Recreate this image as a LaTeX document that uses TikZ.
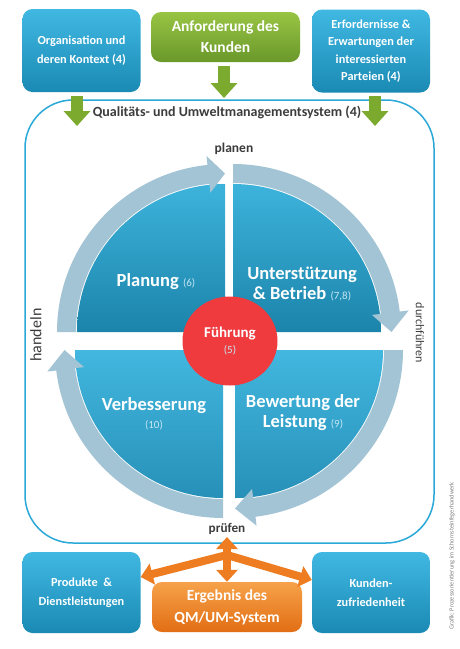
\documentclass[tikz,border=0pt]{standalone}
\usepackage{fontspec}
\setmainfont{Carlito}
\usetikzlibrary{arrows.meta,calc,shapes.geometric}
\definecolor{boxblueT}{HTML}{40B8E2}
\definecolor{boxblueB}{HTML}{1A8AB4}
\definecolor{boxgreenT}{HTML}{98C444}
\definecolor{boxgreenB}{HTML}{6A982A}
\definecolor{boxorangeT}{HTML}{F6A24A}
\definecolor{boxorangeB}{HTML}{E26E14}
\definecolor{secT}{HTML}{3DB3DC}
\definecolor{secB}{HTML}{1C84AA}
\definecolor{secBT}{HTML}{42B7DF}
\definecolor{secBB}{HTML}{2790B8}
\definecolor{ringc}{HTML}{A3C4D5}
\definecolor{framec}{HTML}{2AA8D8}
\definecolor{arrgreen}{HTML}{7BAA2F}
\definecolor{arrorange}{HTML}{EE7D22}
\definecolor{numc}{HTML}{C6E6F4}
\definecolor{leadred}{HTML}{EF3A3E}
\definecolor{labelc}{HTML}{3C3C3C}
\newcommand{\numtxt}[1]{{\mdseries\fontsize{11}{12}\selectfont\color{numc}#1}}
\begin{document}
\begin{tikzpicture}[x=1pt,y=1pt,
  box/.style={rounded corners=10pt, draw=none, text=white, align=center, inner sep=0pt},
  bluebox/.style={box, top color=boxblueT, bottom color=boxblueB, minimum width=118pt, minimum height=83pt, font=\bfseries\fontsize{12.3}{18.5}\selectfont},
  greenbox/.style={box, top color=boxgreenT, bottom color=boxgreenB, minimum width=149pt, minimum height=50pt, font=\bfseries\fontsize{15.5}{21}\selectfont},
  orangebox/.style={box, top color=boxorangeT, bottom color=boxorangeB, minimum width=150pt, minimum height=50pt, font=\bfseries\fontsize{15.5}{22}\selectfont},
  sectortext/.style={text=white, align=center, font=\bfseries\fontsize{18.5}{20}\selectfont, inner sep=0pt},
  topsector/.style={top color=secT, bottom color=secB, draw=none},
  botsector/.style={top color=secBT, bottom color=secBB, draw=none},
  ringarrow/.style={fill=ringc, draw=none},
  greenarrow/.style={draw=arrgreen, line width=12pt, -{Triangle[width=26pt,length=15pt]}},
  orangearrow/.style={draw=arrorange, line width=8pt},
  cyclelabel/.style={text=labelc, font=\fontsize{12.5}{15}\selectfont, inner sep=0pt},
]
\useasboundingbox (0,0) rectangle (460,-649);
\fill[white] (0,0) rectangle (460,-649);

% frame
\draw[framec, line width=1.5pt, rounded corners=48pt] (25,-100) rectangle (434,-543);

% top boxes
\node[bluebox] (org) at (81.5,-50.5) {Organisation und\\deren Kontext (4)};
\node[greenbox] (kunde) at (225.5,-37) {Anforderung des\\Kunden};
\node[bluebox, font=\bfseries\fontsize{12.3}{17.5}\selectfont] (parteien) at (371,-51) {Erfordernisse \&\\Erwartungen der\\interessierten\\Parteien (4)};

\node[text=labelc, font=\bfseries\fontsize{14}{16}\selectfont, inner sep=0pt] (qms) at (227,-112) {Qualitäts- und Umweltmanagementsystem (4)};

% green arrows
\coordinate (gcS) at (224,-66);
\coordinate (gcE) at (224,-98);
\coordinate (glS) at (77,-96);
\coordinate (glE) at (77,-126);
\coordinate (grS) at (375,-96);
\coordinate (grE) at (375,-126);
\draw[greenarrow] (gcS) -- (gcE);
\draw[greenarrow] (glS) -- (glE);
\draw[greenarrow] (grS) -- (grE);

% sectors
\coordinate (TLc) at (225,-332);
\coordinate (TRc) at (233,-332);
\coordinate (BLc) at (223,-350);
\coordinate (BRc) at (235,-350);
\path[topsector] (TLc) -- ++(180:148) arc[start angle=180,end angle=90,radius=148] -- cycle;
\path[topsector] (TRc) -- ++(90:148) arc[start angle=90,end angle=0,radius=148] -- cycle;
\path[botsector] (BLc) -- ++(270:148) arc[start angle=270,end angle=180,radius=148] -- cycle;
\path[botsector] (BRc) -- ++(0:148) arc[start angle=0,end angle=-90,radius=148] -- cycle;

% ring arrows
\fill[ringarrow] ($(TLc)+(180:168)$) arc[start angle=180,end angle=96,radius=168]
  -- ($(TLc)+(96:177)$) -- ($(TLc)+(90:158.5)$) -- ($(TLc)+(96:140)$) -- ($(TLc)+(96:149)$)
  arc[start angle=96,end angle=180,radius=149] -- cycle;
\fill[ringarrow] ($(TRc)+(90:168)$) arc[start angle=90,end angle=7,radius=168]
  -- ($(TRc)+(7:177)$) -- ($(TRc)+(0:158.5)$) -- ($(TRc)+(7:140)$) -- ($(TRc)+(7:149)$)
  arc[start angle=7,end angle=90,radius=149] -- cycle;
\fill[ringarrow] ($(BRc)+(0:168)$) arc[start angle=0,end angle=-83,radius=168]
  -- ($(BRc)+(-83:177)$) -- ($(BRc)+(-90:158.5)$) -- ($(BRc)+(-83:140)$) -- ($(BRc)+(-83:149)$)
  arc[start angle=-83,end angle=0,radius=149] -- cycle;
\fill[ringarrow] ($(BLc)+(-90:168)$) arc[start angle=-90,end angle=-173,radius=168]
  -- ($(BLc)+(-173:177)$) -- ($(BLc)+(-180:158.5)$) -- ($(BLc)+(-173:140)$) -- ($(BLc)+(-173:149)$)
  arc[start angle=-173,end angle=-90,radius=149] -- cycle;

% sector texts
\node[sectortext] (planung) at (156,-282) {Planung \numtxt{(6)}};
\node[sectortext] (betrieb) at (302,-284) {Unterstützung\\\& Betrieb \numtxt{(7,8)}};
\node[sectortext, font=\bfseries\fontsize{18.5}{18}\selectfont] (verb) at (154,-414) {Verbesserung\\\numtxt{(10)}};
\node[sectortext] (bewert) at (303,-413) {Bewertung der\\Leistung \numtxt{(9)}};

% leadership
\node[ellipse, fill=leadred, minimum width=95pt, minimum height=89pt, inner sep=0pt, text=white, align=center] (fuehr) at (230,-341)
  {\bfseries\fontsize{15}{16}\selectfont Führung\\[4pt]\numtxt{(5)}};

% cycle labels
\node[cyclelabel, font=\bfseries\fontsize{13.5}{15}\selectfont] (planen) at (234,-149) {planen};
\node[cyclelabel, rotate=-90, font=\fontsize{12}{14}\selectfont] (durch) at (420,-333) {durchführen};
\node[cyclelabel, rotate=90, font=\fontsize{16}{18}\selectfont] (handeln) at (36,-335) {handeln};
\node[cyclelabel, font=\bfseries\fontsize{13.2}{15}\selectfont] (pruefen) at (227,-529) {prüfen};

% bottom boxes
\node[bluebox, minimum height=81pt] (produkte) at (81.5,-592.5) {Produkte\ \ \&\\Dienstleistungen};
\node[orangebox] (ergebnis) at (227,-607) {Ergebnis des\\QM/UM-System};
\node[bluebox, minimum height=81pt] (zufrieden) at (371,-592.5) {Kunden-\\zufriedenheit};

% orange arrows
\coordinate (hub) at (227,-555);
\coordinate (vtop) at (227,-537);
\draw[orangearrow, {Triangle[width=21pt,length=12pt]}-{Triangle[width=21pt,length=12pt]}] (vtop) -- (ergebnis.north);
\draw[orangearrow, -{Triangle[width=21pt,length=12pt]}] (hub) -- (produkte.east |- 0,-577);
\draw[orangearrow, -{Triangle[width=21pt,length=12pt]}] (hub) -- (zufrieden.west |- 0,-580);

% credit
\node[rotate=90, text=gray, font=\fontsize{6.3}{7}\selectfont, inner sep=0pt] (credit) at (452,-556) {Grafik: Prozessorientierung im Schornsteinfegerhandwerk};
\end{tikzpicture}
\end{document}
